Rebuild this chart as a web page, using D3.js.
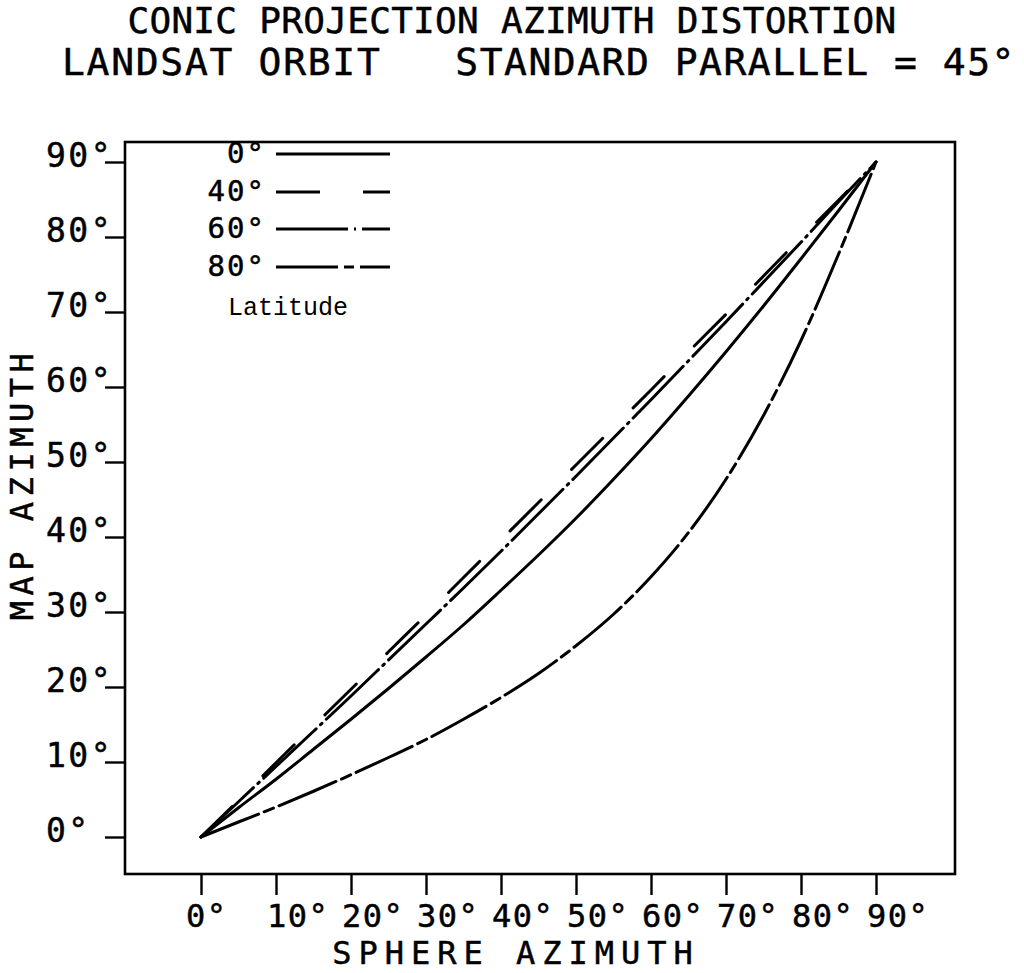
<!DOCTYPE html>
<html>
<head>
<meta charset="utf-8">
<script src="https://cdn.jsdelivr.net/npm/d3@7"></script>
<style>
  html, body { margin: 0; padding: 0; background: #fff; }
  svg { display: block; }
  .plotter { font-family: "DejaVu Sans Mono", monospace; fill: #000; stroke: #000; stroke-width: 0.5px; }
</style>
</head>
<body>
<svg id="chart" width="1024" height="973"></svg>
<script>
// ---- data ----
const sphereAzimuth = [0, 5, 10, 15, 20, 25, 30, 35, 40, 45, 50, 55, 60, 65, 70, 75, 80, 85, 90];
const lat0  = [0, 3.9, 7.7, 11.7, 15.7, 19.8, 24.0, 28.3, 32.9, 37.6, 42.5, 47.7, 53.1, 58.8, 64.7, 70.8, 77.1, 83.5, 90];
const lat40 = [0, 4.9, 9.9, 14.8, 19.7, 24.7, 29.6, 34.6, 39.6, 44.6, 49.6, 54.6, 59.6, 64.7, 69.7, 74.8, 79.9, 84.9, 90];
const lat60 = [0, 4.7, 9.4, 14.1, 18.8, 23.6, 28.4, 33.2, 38.1, 43.1, 48.1, 53.2, 58.3, 63.5, 68.7, 74.0, 79.3, 84.7, 90];
const lat80 = [0, 2.0, 4.0, 6.1, 8.3, 10.6, 13.0, 15.7, 18.6, 21.8, 25.5, 29.7, 34.7, 40.6, 47.7, 56.2, 66.2, 77.7, 90];
const seriesNames = ["0°", "40°", "60°", "80°"];
const tickValues = [0, 10, 20, 30, 40, 50, 60, 70, 80, 90];
const tickLabels = ["0°", "10°", "20°", "30°", "40°", "50°", "60°", "70°", "80°", "90°"];
const titleLine1 = "CONIC PROJECTION AZIMUTH DISTORTION";
const titleLine2a = "LANDSAT ORBIT";
const titleLine2b = "STANDARD PARALLEL = 45°";
const xTitle = "SPHERE AZIMUTH";
const yTitle = "MAP AZIMUTH";
const legendTitle = "Latitude";

// ---- styles ----
const dashes = [null, "44,43", "72,6,2,6", "62,6,10,6"];
const seriesData = [lat0, lat40, lat60, lat80];

const svg = d3.select("#chart");
const x = d3.scaleLinear().domain([0, 90]).range([201, 876]);
const y = d3.scaleLinear().domain([0, 90]).range([837, 162]);

// frame
const frame = {left: 125, top: 142, right: 955, bottom: 874};
svg.append("rect")
  .attr("x", frame.left).attr("y", frame.top)
  .attr("width", frame.right - frame.left).attr("height", frame.bottom - frame.top)
  .attr("fill", "none").attr("stroke", "#000").attr("stroke-width", 2.6);

// y axis ticks
const yAxis = d3.axisLeft(y).tickValues(tickValues).tickSize(20).tickFormat("");
const gy = svg.append("g").attr("transform", `translate(${frame.left},0)`).call(yAxis);
gy.select(".domain").remove();
gy.selectAll("line").attr("stroke", "#000").attr("stroke-width", 2.4);
svg.append("g").selectAll("text").data(tickValues).join("text")
  .attr("class", "plotter")
  .attr("x", 46).attr("y", d => y(d) + 5)
  .attr("font-size", 33)
  .attr("letter-spacing", 2.5)
  .text((d, i) => tickLabels[i]);

// x axis ticks
const xAxis = d3.axisBottom(x).tickValues(tickValues).tickSize(21).tickFormat("");
const gx = svg.append("g").attr("transform", `translate(0,${frame.bottom})`).call(xAxis);
gx.select(".domain").remove();
gx.selectAll("line").attr("stroke", "#000").attr("stroke-width", 2.4);
svg.append("g").selectAll("text").data(tickValues).join("text")
  .attr("class", "plotter")
  .attr("x", d => x(d) - (d === 0 ? 15 : 9)).attr("y", 927)
  .attr("font-size", 32)
  .attr("letter-spacing", 1.5)
  .text((d, i) => tickLabels[i]);

// curves
const line = d3.line()
  .x((d, i) => x(sphereAzimuth[i]))
  .y(d => y(d))
  .curve(d3.curveMonotoneX);
seriesData.forEach((s, k) => {
  svg.append("path")
    .datum(s)
    .attr("d", line)
    .attr("fill", "none")
    .attr("stroke", "#000")
    .attr("stroke-width", 3)
    .attr("stroke-linecap", "round")
    .attr("stroke-dasharray", dashes[k]);
});

// legend
const legendY = [154, 192, 229, 267];
const lg = svg.append("g");
seriesNames.forEach((name, k) => {
  lg.append("text").attr("class", "plotter")
    .attr("x", 266).attr("y", legendY[k] + 9)
    .attr("text-anchor", "end")
    .attr("font-size", 29)
    .attr("letter-spacing", 2)
    .text(name);
  lg.append("line")
    .attr("x1", 276).attr("x2", 390)
    .attr("y1", legendY[k]).attr("y2", legendY[k])
    .attr("stroke", "#000").attr("stroke-width", 3)
    .attr("stroke-dasharray", dashes[k]);
});
lg.append("text")
  .attr("x", 228).attr("y", 315)
  .attr("font-family", "'Liberation Mono', monospace")
  .attr("font-size", 25)
  .attr("fill", "#000")
  .text(legendTitle);

// titles
svg.append("text").attr("class", "plotter")
  .attr("x", 512).attr("y", 33).attr("text-anchor", "middle")
  .attr("font-size", 36).attr("letter-spacing", 0.3).text(titleLine1);
svg.append("text").attr("class", "plotter")
  .attr("x", 62).attr("y", 75)
  .attr("font-size", 38).attr("letter-spacing", 1.7).text(titleLine2a);
svg.append("text").attr("class", "plotter")
  .attr("x", 1016).attr("y", 75).attr("text-anchor", "end")
  .attr("font-size", 38).attr("letter-spacing", 1.5).text(titleLine2b);

// axis titles
svg.append("text").attr("class", "plotter")
  .attr("x", 516).attr("y", 964).attr("text-anchor", "middle")
  .attr("font-size", 32).attr("letter-spacing", 7).text(xTitle);
svg.append("text").attr("class", "plotter")
  .attr("transform", "translate(33,484) rotate(-90)")
  .attr("text-anchor", "middle")
  .attr("font-size", 32).attr("letter-spacing", 5.5).text(yTitle);
</script>
</body>
</html>
